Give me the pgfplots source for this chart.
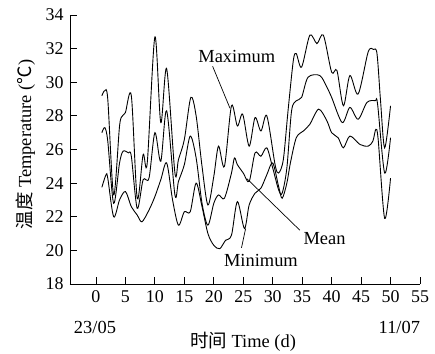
\documentclass[border=0pt]{standalone}
\usepackage{fontspec}
\setmainfont{Liberation Serif}
\newfontfamily\cjk{Noto Sans CJK SC}
\usepackage{pgfplots}
\pgfplotsset{compat=1.18}
\begin{document}
\fontsize{18.5}{21}\selectfont
\begin{tikzpicture}
\useasboundingbox (-70bp,-70bp) rectangle (365bp,284bp);
\begin{axis}[
  at={(0,0)}, anchor=south west,
  scale only axis, width=350bp, height=269bp,
  xmin=-4.41, xmax=55, ymin=18, ymax=34,
  axis x line*=bottom, axis y line*=left,
  axis line style={-, line width=0.8pt},
  xtick={0,5,...,55}, ytick={18,20,...,34},
  tick align=inside, major tick length=7bp,
  tick style={black, line width=0.8pt},
  /pgf/number format/assume math mode=true,
  ticklabel style={font=\fontsize{18}{21}\selectfont},
  clip=false,
  curve/.style={black, line width=0.9pt, smooth, tension=0.5, no markers},
]
% Maximum
\addplot[curve] coordinates {(1,29.2) (1.5,29.5) (2,29.0) (3,23.3) (4,27.4) (4.5,28.0) (5,28.2) (6,29.2) (7,23.1) (8,25.7) (8.7,25.2) (10,32.7) (11,27.6) (12,30.8) (13.4,24.6) (14,25.4) (15,26.6) (16.1,29.1) (17,28.0) (18,25.0) (19,22.7) (20,24.4) (20.8,26.2) (21.8,25.0) (23,28.6) (24,27.4) (24.9,28.1) (26,26.2) (27,27.9) (28,27.1) (29,28.0) (30.4,25.1) (31,24.6) (31.8,25.4) (32.6,28.3) (33.5,31.3) (34,31.7) (34.9,30.9) (36.3,32.8) (37.5,32.3) (38.6,32.8) (40,30.6) (40.9,30.7) (42,28.6) (43.1,30.4) (44.5,29.3) (46.2,31.8) (47.1,31.95) (47.7,31.7) (48.3,28.9) (49,26.1) (50,28.6)};
% Mean
\addplot[curve] coordinates {(1,27.0) (1.5,27.3) (2,26.5) (3,22.8) (4,25.2) (4.6,25.9) (5.5,25.8) (6,25.6) (7,22.5) (8,24.2) (9,24.3) (10,27.0) (11,25.3) (12,28.3) (13.4,23.3) (14,24.1) (15,25.1) (16,26.8) (17,25.5) (18,22.8) (19,21.5) (20,22.8) (20.8,23.3) (21.8,23.1) (23,24.6) (23.5,25.5) (24,25.1) (25,24.6) (26,24.1) (27,25.8) (28,25.6) (29,26.1) (30,24.9) (31,23.6) (31.6,23.4) (32.4,24.9) (33.2,28.3) (34,28.9) (34.9,29.1) (36,30.3) (38,30.4) (39.2,29.7) (40,29.1) (41.8,27.6) (43.1,28.5) (44.5,27.8) (46,28.8) (47.4,28.9) (47.8,28.7) (49,24.6) (50,26.7)};
% Minimum
\addplot[curve] coordinates {(1,23.75) (1.7,24.5) (2,24.3) (3,22.0) (4,23.0) (5,23.5) (6,22.6) (7,22.1) (7.8,21.7) (9,22.4) (10,23.2) (11,24.2) (12,25.2) (13,23.0) (14,21.5) (15,22.3) (16,22.3) (17,24.0) (18,22.6) (19,21.0) (20,20.3) (21,20.1) (22,20.6) (23,20.9) (24,22.9) (25.2,21.3) (26,22.7) (27,23.4) (28,23.7) (29,24.5) (30,25.2) (31,23.8) (31.6,23.1) (32.4,24.0) (33,25.2) (34,26.7) (35.2,27.1) (36.3,27.5) (37.8,28.4) (39.2,27.7) (40,27.0) (41.1,26.7) (42,26.1) (43.1,26.8) (44.8,26.3) (46.2,26.2) (47,26.5) (47.5,27.2) (47.9,26.6) (49,21.9) (50,24.3)};
% annotations
\draw[line width=0.7pt] (axis cs:19.8,30.95) -- (axis cs:22.75,28.45);
\draw[line width=0.7pt] (axis cs:25.6,24.27) -- (axis cs:34.6,21.2);
\draw[line width=0.7pt] (axis cs:24.7,20.15) -- (axis cs:25.4,21.3);
\node at (axis cs:23.9,31.55) {Maximum};
\node at (axis cs:38.8,20.7) {Mean};
\node at (axis cs:28.0,19.4) {Minimum};
\node at (axis cs:-0.17,15.43) {23/05};
\node at (axis cs:51.5,15.43) {11/07};
\node at (axis cs:24.96,14.54) {{\cjk 时间} Time (d)};
\node[rotate=90] at (axis cs:-12.0,26.3) {{\cjk 温度} Temperature ({\cjk ℃})};
\end{axis}
\end{tikzpicture}
\end{document}
